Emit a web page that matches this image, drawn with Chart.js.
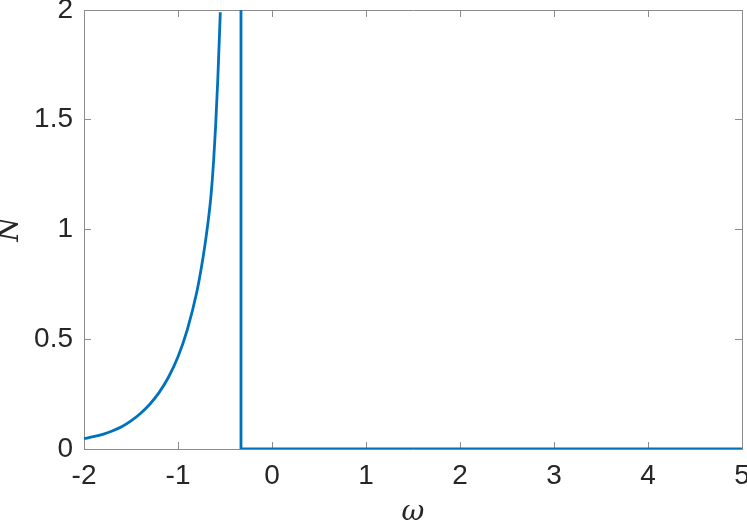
<!DOCTYPE html>
<html>
<head>
<meta charset="utf-8">
<script src="https://cdn.jsdelivr.net/npm/chart.js@4/dist/chart.umd.min.js"></script>
<style>
  html, body { margin: 0; padding: 0; background: #fff; }
  #wrap { width: 747px; height: 521px; position: relative; }
</style>
</head>
<body>
<div id="wrap"><canvas id="c" width="747" height="521"></canvas></div>
<script>
// Data
const curveOmega = [-2.0, -1.9, -1.8, -1.7, -1.6, -1.5, -1.4, -1.3, -1.2, -1.1, -1.0, -0.9, -0.8, -0.75, -0.7, -0.65, -0.62, -0.6, -0.577, -0.55];
const curveN     = [0.047, 0.056, 0.067, 0.082, 0.101, 0.128, 0.162, 0.204, 0.258, 0.328, 0.420, 0.545, 0.715, 0.83, 0.97, 1.15, 1.32, 1.47, 1.68, 1.99];
const stepOmega  = [-0.33, -0.33, 5];
const stepN      = [2, 0, 0];
const xTicks = [-2, -1, 0, 1, 2, 3, 4, 5];
const xTickLabels = ['-2', '-1', '0', '1', '2', '3', '4', '5'];
const yTicks = [0, 0.5, 1, 1.5, 2];
const yTickLabels = ['0', '0.5', '1', '1.5', '2'];
const xLabel = 'ω';
const yLabel = 'N';

const lineColor = '#0072BD';
const axisColor = '#8c8c8c';
const textColor = '#262626';
const tickFont = { family: "'Liberation Sans', Arial, Helvetica, sans-serif", size: 28 };

const toPts = (xs, ys) => xs.map((x, i) => ({ x: x, y: ys[i] }));

function fixedTicks(values) {
  return function (scale) {
    scale.ticks = values.map(v => ({ value: v }));
  };
}
function fitBox(w, h) {
  return function (s) {
    if (w !== null) s.width = w;
    if (h !== null) s.height = h;
    s.paddingLeft = 0; s.paddingRight = 0; s.paddingTop = 0; s.paddingBottom = 0;
  };
}

new Chart(document.getElementById('c'), {
  type: 'line',
  data: {
    datasets: [
      {
        data: toPts(curveOmega, curveN),
        borderColor: lineColor,
        borderWidth: 2.8,
        pointRadius: 0,
        cubicInterpolationMode: 'monotone',
        fill: false,
        clip: { left: 5, top: 0, right: 5, bottom: 5 }
      },
      {
        data: toPts(stepOmega, stepN),
        borderColor: lineColor,
        borderWidth: 2.8,
        pointRadius: 0,
        tension: 0,
        fill: false
      }
    ]
  },
  options: {
    responsive: false,
    animation: false,
    events: [],
    layout: { padding: { top: 10, right: 5, left: 0, bottom: 0 } },
    plugins: { legend: { display: false }, tooltip: { enabled: false } },
    scales: {
      x: {
        type: 'linear', position: 'bottom', min: -2, max: 5,
        afterBuildTicks: fixedTicks(xTicks),
        afterFit: fitBox(null, 72),
        grid: { drawOnChartArea: false, drawTicks: true, tickLength: -7, color: axisColor, lineWidth: 1 },
        border: { display: true, color: axisColor, width: 1 },
        ticks: { color: textColor, font: tickFont, padding: 17, maxRotation: 0, autoSkip: false,
                 callback: v => xTickLabels[xTicks.indexOf(v)] },
        title: { display: true, text: xLabel, color: textColor,
                 font: { family: "'DejaVu Serif', 'Liberation Serif', serif", style: 'italic', size: 28, lineHeight: 0.6 },
                 padding: { top: 0, bottom: 0 } }
      },
      x2: {
        type: 'linear', position: 'top', min: -2, max: 5,
        afterBuildTicks: fixedTicks(xTicks),
        afterFit: fitBox(null, 0),
        grid: { drawOnChartArea: false, drawTicks: true, tickLength: -7, color: axisColor, lineWidth: 1 },
        border: { display: true, color: axisColor, width: 1 },
        ticks: { display: false }
      },
      y: {
        type: 'linear', position: 'left', min: 0, max: 2,
        afterBuildTicks: fixedTicks(yTicks),
        afterFit: fitBox(84, null),
        grid: { drawOnChartArea: false, drawTicks: true, tickLength: -7, color: axisColor, lineWidth: 1 },
        border: { display: true, color: axisColor, width: 1 },
        ticks: { color: textColor, font: tickFont, padding: 18, autoSkip: false,
                 callback: v => yTickLabels[yTicks.indexOf(v)] },
        title: { display: true, text: yLabel, color: textColor,
                 font: { family: "'DejaVu Serif', 'Liberation Serif', serif", style: 'italic', size: 28, lineHeight: 0.8 },
                 padding: { top: 0, bottom: 0 } }
      },
      y2: {
        type: 'linear', position: 'right', min: 0, max: 2,
        afterBuildTicks: fixedTicks(yTicks),
        afterFit: fitBox(0, null),
        grid: { drawOnChartArea: false, drawTicks: true, tickLength: -7, color: axisColor, lineWidth: 1 },
        border: { display: true, color: axisColor, width: 1 },
        ticks: { display: false }
      }
    }
  }
});
</script>
</body>
</html>
